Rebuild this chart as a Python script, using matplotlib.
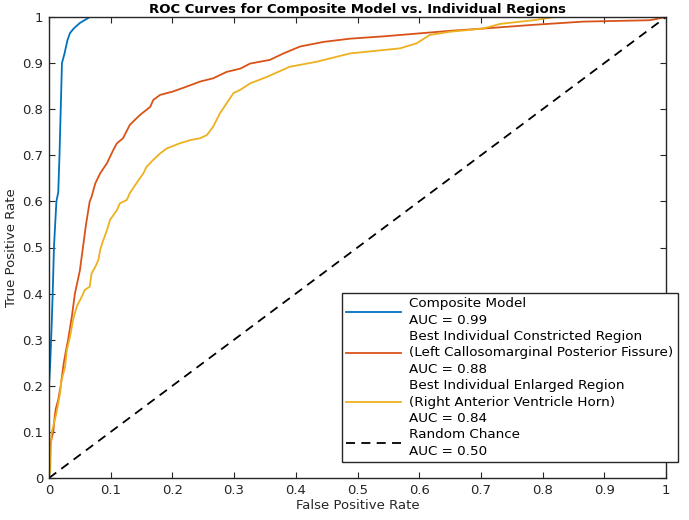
import numpy as np
import matplotlib
matplotlib.use("Agg")
import matplotlib.pyplot as plt

# ROC curves (fpr, tpr)
composite_fpr = [0, 0, 0.002, 0.004, 0.006, 0.008, 0.010, 0.012, 0.015, 0.017, 0.019,
                 0.021, 0.025, 0.030, 0.034, 0.040, 0.050, 0.060, 0.066, 0.10, 0.18, 1.0]
composite_tpr = [0, 0.20, 0.25, 0.32, 0.40, 0.50, 0.55, 0.60, 0.62, 0.70, 0.80,
                 0.90, 0.92, 0.95, 0.965, 0.975, 0.987, 0.995, 1.0, 1.0, 1.0, 1.0]

constricted_fpr = [0, 0.002, 0.005, 0.007, 0.009, 0.011, 0.015, 0.019, 0.024, 0.028, 0.031,
                   0.037, 0.042, 0.050, 0.055, 0.060, 0.066, 0.069, 0.075, 0.083, 0.094,
                   0.104, 0.110, 0.120, 0.131, 0.147, 0.164, 0.169, 0.180, 0.200, 0.223,
                   0.245, 0.266, 0.288, 0.310, 0.326, 0.358, 0.380, 0.407, 0.445, 0.488,
                   0.542, 0.596, 0.650, 0.704, 0.785, 0.866, 0.974, 1.0]
constricted_tpr = [0, 0.07, 0.09, 0.10, 0.13, 0.15, 0.17, 0.20, 0.25, 0.28, 0.30,
                   0.35, 0.40, 0.45, 0.50, 0.55, 0.60, 0.61, 0.639, 0.661, 0.683,
                   0.711, 0.726, 0.737, 0.766, 0.787, 0.805, 0.820, 0.831, 0.838, 0.849,
                   0.860, 0.867, 0.881, 0.888, 0.899, 0.907, 0.921, 0.936, 0.946, 0.953,
                   0.958, 0.964, 0.970, 0.975, 0.983, 0.990, 0.993, 1.0]

enlarged_fpr = [0, 0.002, 0.004, 0.012, 0.018, 0.020, 0.026, 0.029, 0.034, 0.039, 0.045,
                0.053, 0.058, 0.066, 0.069, 0.075, 0.080, 0.083, 0.088, 0.094, 0.099,
                0.110, 0.115, 0.126, 0.131, 0.137, 0.142, 0.153, 0.158, 0.169, 0.180,
                0.191, 0.212, 0.229, 0.245, 0.256, 0.266, 0.277, 0.288, 0.299, 0.310,
                0.326, 0.353, 0.390, 0.434, 0.488, 0.569, 0.596, 0.617, 0.650, 0.704,
                0.731, 0.785, 0.820, 1.0]
enlarged_tpr = [0, 0.017, 0.097, 0.14, 0.184, 0.21, 0.241, 0.278, 0.306, 0.343, 0.372,
                0.393, 0.408, 0.415, 0.444, 0.458, 0.473, 0.495, 0.516, 0.538, 0.560,
                0.581, 0.596, 0.603, 0.618, 0.630, 0.640, 0.661, 0.675, 0.690, 0.704,
                0.715, 0.726, 0.733, 0.737, 0.744, 0.762, 0.791, 0.813, 0.835, 0.842,
                0.856, 0.870, 0.892, 0.903, 0.921, 0.932, 0.943, 0.961, 0.968, 0.975,
                0.985, 0.993, 1.0, 1.0]

chance = [0, 1]

labels = [
    "Composite Model\nAUC = 0.99",
    "Best Individual Constricted Region\n(Left Callosomarginal Posterior Fissure)\nAUC = 0.88",
    "Best Individual Enlarged Region\n(Right Anterior Ventricle Horn)\nAUC = 0.84",
    "Random Chance\nAUC = 0.50",
]
ticks = np.round(np.arange(0, 1.01, 0.1), 1)
tick_labels = ["0"] + [f"{t:g}" for t in ticks[1:-1]] + ["1"]

plt.rcParams['font.family'] = ['DejaVu Sans']
fig = plt.figure(figsize=(6.89, 5.2), dpi=100)
ax = fig.add_axes([49 / 689, 42 / 520, 617 / 689, 461 / 520])

ax.plot(composite_fpr, composite_tpr, color='#0072BD', lw=1.3, label=labels[0])
ax.plot(constricted_fpr, constricted_tpr, color='#D95319', lw=1.3, label=labels[1])
ax.plot(enlarged_fpr, enlarged_tpr, color='#EDB120', lw=1.3, label=labels[2])
ax.plot(chance, chance, color='black', lw=1.3, ls=(0, (5, 3.5)), label=labels[3])

ax.set_xlim(0, 1)
ax.set_ylim(0, 1)
ax.set_xticks(ticks)
ax.set_yticks(ticks)
ax.set_xticklabels(tick_labels)
ax.set_yticklabels(tick_labels)
ax.tick_params(direction='in', top=True, right=True, length=4, width=0.8,
               labelsize=9.5, colors='#262626', pad=4)
for s in ax.spines.values():
    s.set_linewidth(1.0)
    s.set_color('#262626')

ax.set_xlabel("False Positive Rate", fontsize=9.5, color='#262626', labelpad=2)
ax.set_ylabel("True Positive Rate", fontsize=9.5, color='#262626', labelpad=3)
ax.set_title("ROC Curves for Composite Model vs. Individual Regions",
             fontsize=9.5, fontweight='bold', pad=3)

leg = ax.legend(loc='upper left', bbox_to_anchor=(342 / 689, 1 - 293 / 520),
                bbox_transform=fig.transFigure, borderaxespad=0, fontsize=9.7,
                frameon=True, fancybox=False, edgecolor='#262626', framealpha=1,
                handlelength=4.1, handletextpad=0.6, labelspacing=0.2,
                borderpad=0.3)
for t in leg.get_texts():
    t.set_linespacing(1.38)
leg.get_frame().set_linewidth(1.0)

fig.savefig("out.png", dpi=100)
